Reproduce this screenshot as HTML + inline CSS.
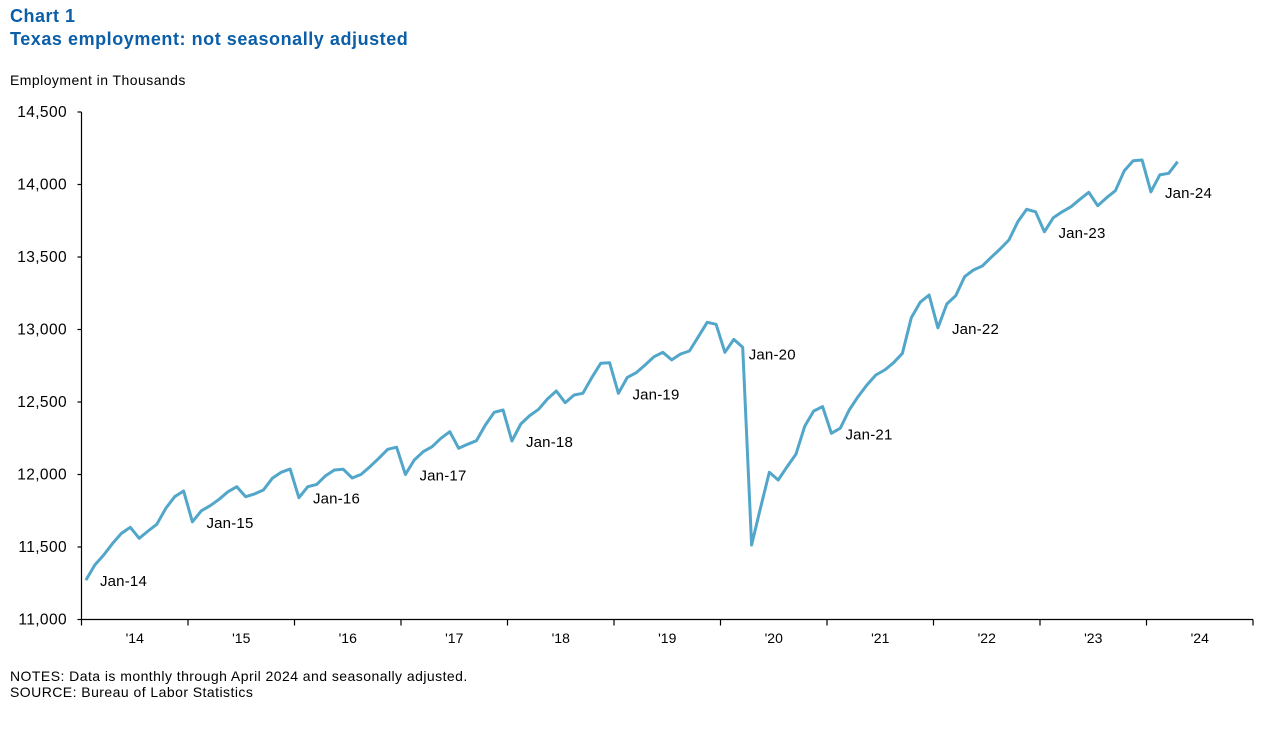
<!DOCTYPE html>
<html><head><meta charset="utf-8"><style>
body{margin:0;background:#fff;width:1280px;height:725px;overflow:hidden;font-family:"Liberation Sans",Arial,sans-serif}
svg text{font-family:"Liberation Sans",Arial,sans-serif}
</style></head><body>
<svg id="chart" width="1280" height="725">
<text x="10" y="22" font-size="18" font-weight="bold" fill="#0b5ea8" letter-spacing="0.5">Chart 1</text>
<text x="10" y="45" font-size="18" font-weight="bold" fill="#0b5ea8" letter-spacing="0.55">Texas employment:  not seasonally  adjusted</text>
<text x="10" y="85" font-size="14" fill="#000" letter-spacing="0.45">Employment  in Thousands</text>
<text x="10" y="681" font-size="14" fill="#000" letter-spacing="0.45">NOTES: Data is monthly through  April 2024 and seasonally adjusted.</text>
<text x="10" y="697" font-size="14" fill="#000" letter-spacing="0.45">SOURCE: Bureau of Labor Statistics</text>
<g id="axes"></g>
<g id="plot"></g>
</svg>
<script>
const yTicks=[11000,11500,12000,12500,13000,13500,14000,14500];
const years=["'14","'15","'16","'17","'18","'19","'20","'21","'22","'23","'24"];
const values=[
11272,11376,11445,11525,11594,11636,11560,11610,11657,11767,11847,11886,
11674,11750,11785,11829,11881,11916,11847,11866,11893,11974,12015,12038,
11840,11916,11932,11992,12031,12036,11976,12001,12054,12112,12174,12188,
12001,12100,12157,12192,12250,12295,12181,12208,12233,12341,12429,12445,
12231,12348,12406,12450,12521,12576,12495,12548,12560,12668,12767,12771,
12560,12670,12702,12755,12812,12843,12790,12831,12852,12950,13050,13036,
12843,12932,12877,11514,11767,12015,11962,12054,12139,12334,12438,12468,
12284,12319,12445,12537,12617,12686,12721,12771,12836,13081,13188,13238,
13012,13176,13233,13364,13410,13438,13498,13555,13617,13743,13829,13812,
13674,13771,13812,13847,13898,13946,13854,13909,13957,14095,14164,14169,
13950,14066,14077,14157];
const janLabels=["Jan-14","Jan-15","Jan-16","Jan-17","Jan-18","Jan-19","Jan-20","Jan-21","Jan-22","Jan-23","Jan-24"];
const labelMonthIdx=[0,12,24,36,48,60,74,84,96,108,120];

const X0=81.5,X1=1253,Y0=619.5,Y1=112,yMin=11000,yMax=14500,nMonths=132;
const mw=(X1-X0)/nMonths;
function xOf(i){return X0+mw*(i+0.5);}
function yOf(v){return Y0-(v-yMin)/(yMax-yMin)*(Y0-Y1);}
const NS="http://www.w3.org/2000/svg";
function mk(tag,attrs,parent){const e=document.createElementNS(NS,tag);for(const k in attrs)e.setAttribute(k,attrs[k]);parent.appendChild(e);return e;}
const axes=document.getElementById('axes'),plot=document.getElementById('plot');
let e=mk('line',{x1:X0,y1:Y1,x2:X0,y2:Y0,stroke:'#000','stroke-width':1.2},axes);


e=mk('line',{x1:X0,y1:Y0,x2:X1,y2:Y0,stroke:'#000','stroke-width':1.2},axes);


yTicks.forEach(v=>{
  const y=yOf(v);
  mk('line',{x1:X0-4,y1:y,x2:X0,y2:y,stroke:'#000','stroke-width':1.2},axes);
  const t=mk('text',{x:67,y:y+5,'text-anchor':'end','font-size':15.5,'letter-spacing':0.4,fill:'#000'},axes);
  t.textContent=v.toLocaleString('en-US');
  
  
});
for(let k=0;k<=years.length;k++){
  const x=X0+k*12*mw;
  mk('line',{x1:x,y1:Y0,x2:x,y2:Y0+6,stroke:'#000','stroke-width':1.2},axes);
}
years.forEach((yl,k)=>{
  const t=mk('text',{x:X0+(k+0.5)*12*mw,y:643,'text-anchor':'middle','font-size':14,fill:'#000'},axes);
  t.textContent=yl;
  
  
});
const pts=values.map((v,i)=>xOf(i).toFixed(1)+','+yOf(v).toFixed(1)).join(' ');
const pl=mk('polyline',{points:pts,fill:'none',stroke:'#52a6c9','stroke-width':3,'stroke-linejoin':'round'},plot);


janLabels.forEach((lb,k)=>{
  const i=labelMonthIdx[k];
  const special=(lb==="Jan-20");
  const t=mk('text',{x:xOf(i)+(special?6:14),y:yOf(values[i])+(special?12:6),'font-size':15,'letter-spacing':0.2,fill:'#000'},plot);
  t.textContent=lb;
  
  
});
</script>
</body></html>
